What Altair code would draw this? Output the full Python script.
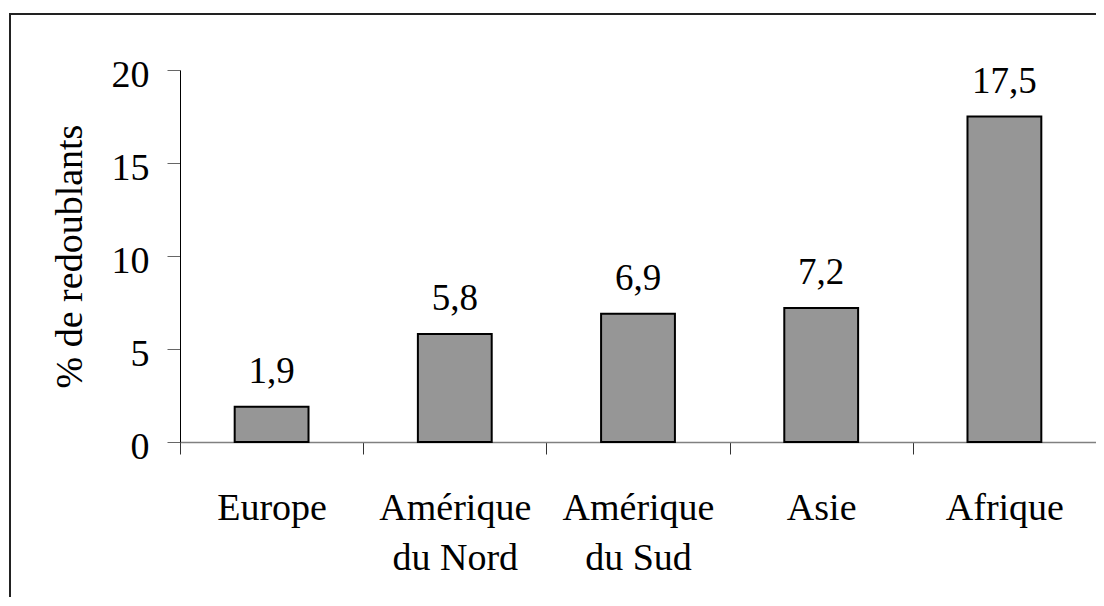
import altair as alt
import pandas as pd

categories = ["Europe", "Amérique du Nord", "Amérique du Sud", "Asie", "Afrique"]
values = [1.9, 5.8, 6.9, 7.2, 17.5]
y_ticks = [0, 5, 10, 15, 20]

df = pd.DataFrame({"region": categories, "pct": values})

FONT = "Times New Roman, Liberation Serif, DejaVu Serif, serif"
W, H = 916, 372

x_enc = alt.X(
    "region:N",
    sort=categories,
    scale=alt.Scale(paddingInner=0, paddingOuter=0),
    axis=alt.Axis(
        title=None,
        labelAngle=0,
        labelFont=FONT,
        labelFontSize=38,
        labelColor="black",
        labelBaseline="alphabetic",
        labelPadding=65,
        labelLineHeight=50,
        labelExpr="split(replace(datum.label, 'Amérique ', 'Amérique|'), '|')",
        tickBand="extent",
        tickSize=12,
        tickColor="#333333",
        domainColor="#808080",
        domainWidth=1.5,
        labelOverlap=False,
    ),
)
y_enc = alt.Y(
    "pct:Q",
    scale=alt.Scale(domain=[0, 20], nice=False),
    axis=alt.Axis(
        values=y_ticks,
        grid=False,
        title="% de redoublants",
        titleFont=FONT,
        titleFontSize=38,
        titleFontWeight="normal",
        titleColor="black",
        titleAngle=-90,
        titleAlign="center",
        titleBaseline="alphabetic",
        titleX=-99,
        titleY=H / 2,
        labelFont=FONT,
        labelFontSize=38,
        labelColor="black",
        labelBaseline="alphabetic",
        labelOffset=16,
        labelPadding=18,
        tickSize=13,
        tickColor="#666666",
        domainColor="black",
        domainWidth=1,
    ),
)

bars = alt.Chart(df).mark_bar(
    width={"band": 0.403},
    color="#969696",
    stroke="black",
    strokeWidth=2,
).encode(x=x_enc, y=y_enc)

labels = alt.Chart(df).transform_calculate(
    lab="replace(format(datum.pct, '.1f'), '.', ',')"
).mark_text(
    font=FONT, fontSize=37, color="black", baseline="alphabetic", dy=-24
).encode(
    x=alt.X("region:N", sort=categories),
    y=alt.Y("pct:Q"),
    text="lab:N",
)

frame = alt.Chart(alt.Data(values=[{"a": 1}])).mark_rect(
    filled=False, stroke="#222222", strokeWidth=2, clip=False
).encode(
    x=alt.value(-170), x2=alt.value(W + 40),
    y=alt.value(-56), y2=alt.value(H + 300),
)

chart = alt.layer(frame, bars, labels).properties(
    width=W,
    height=H,
    background="white",
    autosize=alt.AutoSizeParams(type="none"),
    padding={"left": 172, "top": 62, "right": 0, "bottom": 155},
).configure_view(strokeWidth=0, stroke="transparent")

chart.save("out.html", embed_options={"renderer": "svg", "actions": False})
